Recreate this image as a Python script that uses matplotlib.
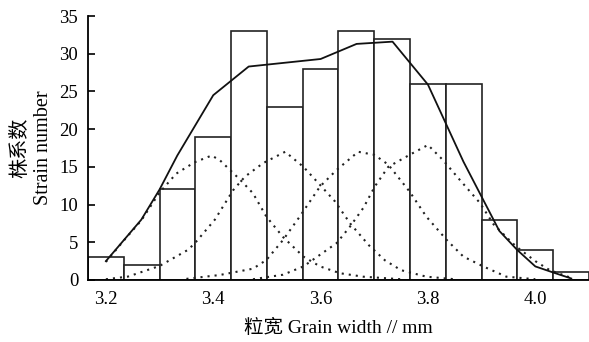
import matplotlib
matplotlib.use("Agg")
import matplotlib.pyplot as plt

plt.rcParams['font.family'] = ['Liberation Serif', 'Noto Sans CJK SC', 'DejaVu Sans']

# histogram: 14 classes of grain width, width 1/15 mm
bin_width = 1 / 15
bin_centers = [3.2 + i / 15 for i in range(14)]
counts = [3, 2, 12, 19, 33, 23, 28, 33, 32, 26, 26, 8, 4, 1]

# total fitted curve (solid)
fit_x = [3.2, 3.266, 3.3, 3.333, 3.4, 3.466, 3.533, 3.6, 3.667, 3.734, 3.8, 3.866, 3.933, 3.966, 4.0, 4.033, 4.067]
fit_y = [2.5, 8.0, 12.0, 16.5, 24.5, 28.3, 28.8, 29.3, 31.3, 31.6, 25.9, 15.7, 6.5, 4.0, 1.8, 1.0, 0.2]

# component curves (dotted)
c1_x = [3.2, 3.233, 3.266, 3.3, 3.331, 3.365, 3.397, 3.412, 3.45, 3.474, 3.499, 3.53, 3.568, 3.599, 3.636, 3.679, 3.75]
c1_y = [2.4, 5.2, 7.9, 11.6, 14.1, 15.6, 16.5, 15.9, 13.3, 11.5, 8.4, 5.7, 3.1, 1.8, 0.9, 0.44, 0.1]

c2_x = [3.2, 3.241, 3.3, 3.353, 3.366, 3.403, 3.437, 3.459, 3.493, 3.534, 3.568, 3.599, 3.627, 3.655, 3.69, 3.72, 3.75, 3.797, 3.85]
c2_y = [0.1, 0.45, 1.86, 4.0, 4.9, 8.0, 11.9, 13.7, 15.5, 17.0, 15.0, 12.6, 10.4, 7.5, 4.6, 2.6, 1.3, 0.44, 0.1]

c3_x = [3.35, 3.412, 3.474, 3.499, 3.53, 3.561, 3.599, 3.63, 3.67, 3.7, 3.726, 3.766, 3.797, 3.835, 3.866, 3.903, 3.946, 4.0]
c3_y = [0.15, 0.66, 1.5, 2.65, 5.3, 8.4, 12.4, 14.6, 17.0, 16.6, 15.3, 11.7, 8.4, 5.3, 3.1, 1.8, 0.44, 0.1]

c4_x = [3.474, 3.53, 3.568, 3.63, 3.655, 3.68, 3.701, 3.726, 3.766, 3.8, 3.828, 3.859, 3.897, 3.922, 3.953, 3.965, 4.0, 4.027, 4.07]
c4_y = [0.1, 0.7, 1.8, 4.9, 7.1, 9.6, 12.4, 15.0, 16.6, 17.9, 15.9, 13.3, 10.2, 7.4, 5.2, 4.4, 2.5, 1.3, 0.2]

xticks = [3.2, 3.4, 3.6, 3.8, 4.0]
yticks = [0, 5, 10, 15, 20, 25, 30, 35]

fig = plt.figure(figsize=(5.89, 3.42), dpi=100)
ax = fig.add_axes([0.1494, 0.1813, 0.8506, 0.7719])

ax.bar(bin_centers, counts, width=bin_width, color='white', edgecolor='#222222', linewidth=1.2, zorder=1)

for cx, cy in [(c1_x, c1_y), (c2_x, c2_y), (c3_x, c3_y), (c4_x, c4_y)]:
    ax.plot(cx, cy, color='#222222', linestyle=(0, (1, 2.4)), linewidth=1.5, zorder=2)
ax.plot(fit_x, fit_y, color='#111111', linewidth=1.3, zorder=3)

ax.set_xlim(3.2 - bin_width / 2, 3.2 + 13 * bin_width + bin_width / 2)
ax.set_ylim(0, 35)
ax.set_xticks(xticks)
ax.set_xticklabels(['3.2', '3.4', '3.6', '3.8', '4.0'])
ax.set_yticks(yticks)

ax.spines['top'].set_visible(False)
ax.spines['right'].set_visible(False)
ax.spines['left'].set_linewidth(1.3)
ax.spines['bottom'].set_linewidth(1.3)
ax.tick_params(axis='x', length=0, pad=8, labelsize=13.5)
ax.tick_params(axis='y', direction='in', length=5, width=1.2, pad=7, labelsize=13.5)

ax.set_xlabel('粒宽 Grain width // mm', fontsize=14, labelpad=8)
ax.set_ylabel('株系数\nStrain number', fontsize=14.5, labelpad=5, linespacing=1.2)

fig.savefig('out.png', dpi=100)
